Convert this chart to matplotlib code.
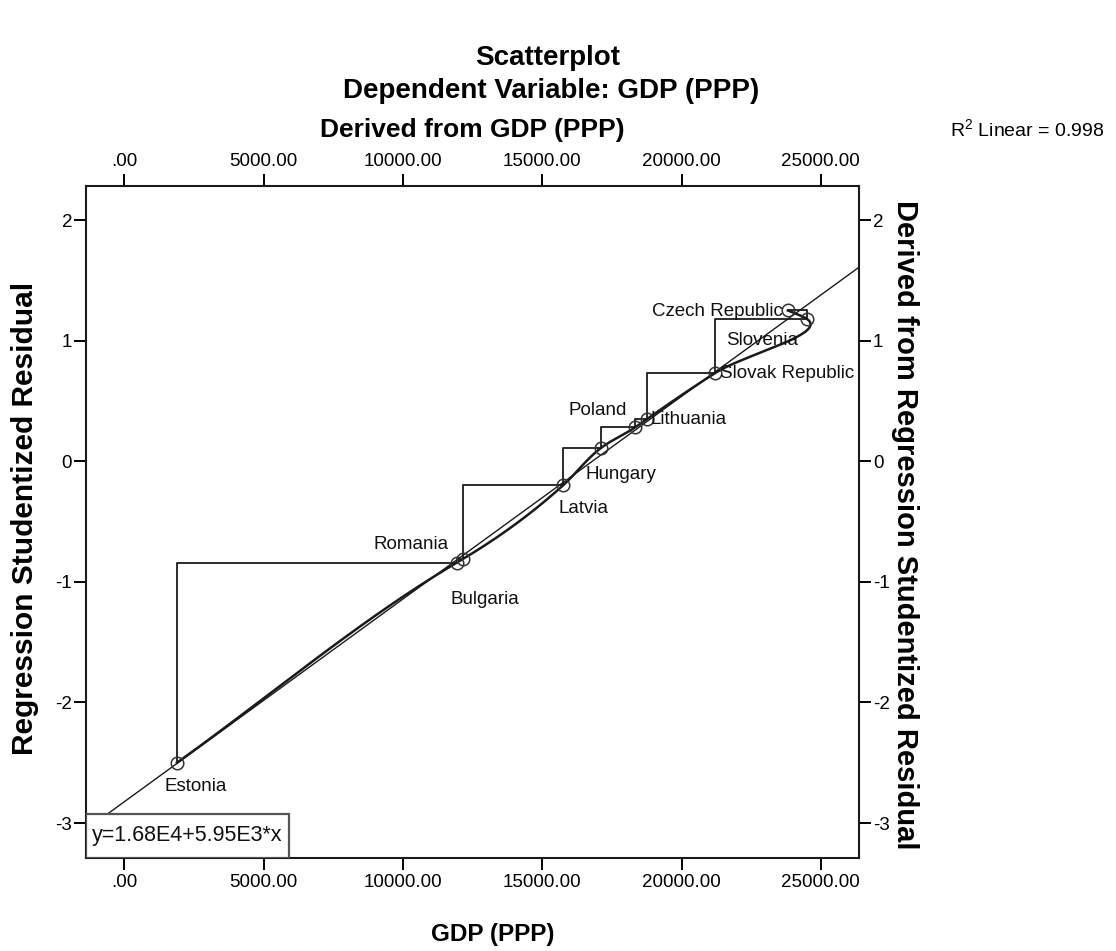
import numpy as np
from matplotlib import pyplot as plt
from matplotlib.patches import Rectangle

plt.rcParams['font.family'] = ['Liberation Sans', 'DejaVu Sans']
plt.rcParams['mathtext.fontset'] = 'custom'
plt.rcParams['mathtext.rm'] = 'Liberation Sans'

# data, ordered by the residual (that's the order SPSS joins them)
countries = ["Estonia", "Romania", "Bulgaria", "Latvia", "Hungary", "Poland",
             "Lithuania", "Slovak Republic", "Slovenia", "Czech Republic"]
gdp = [1890, 11940, 12160, 15750, 17110, 18330, 18760, 21200, 24500, 23820]
resid = [-2.50, -0.84, -0.81, -0.20, 0.11, 0.28, 0.35, 0.73, 1.18, 1.25]

# fit line as printed in the box: GDP = 1.68E4 + 5.95E3 * residual
fit_a = 1.68e4
fit_b = 5.95e3
r2 = 0.998

xticks = [0, 5000, 10000, 15000, 20000, 25000]
xticklabels = [".00", "5000.00", "10000.00", "15000.00", "20000.00", "25000.00"]
yticks = [2, 1, 0, -1, -2, -3]
yticklabels = ["2", "1", "0", "-1", "-2", "-3"]

# label offsets in pixels (dx, dy, ha)
lab_off = {"Estonia": (19, -24, "center"), "Romania": (-8, 18, "right"),
           "Bulgaria": (22, -41, "center"), "Latvia": (20, -23, "center"),
           "Hungary": (20, -27, "center"), "Poland": (-37, 17, "center"),
           "Lithuania": (4, 0, "left"), "Slovak Republic": (5, 0, "left"),
           "Slovenia": (-45, -22, "center"), "Czech Republic": (-5, -1, "right")}

W, H = 1116, 951
fig = plt.figure(figsize=(W / 100, H / 100), dpi=100)
ax = fig.add_axes([86 / W, 1 - 858 / H, (859 - 86) / W, (858 - 186) / H])
xmin, xmax = -1375, 26371
ymin, ymax = -3.29, 2.282
ax.set_xlim(xmin, xmax)
ax.set_ylim(ymin, ymax)

col = "#1a1a1a"

# fit line across the whole plot
xl = np.array([xmin, xmax])
ax.plot(xl, (xl - fit_a) / fit_b, color=col, lw=1.0, zorder=2)

# smooth interpolation line through the points:
# hermite pieces with chord-length (bessel) tangents, done in pixel space
sx = 773 / (xmax - xmin)
sy = 672 / (ymax - ymin)
P = np.column_stack([np.array(gdp) * sx, np.array(resid) * sy])
n = len(P)
h = np.sqrt(((P[1:] - P[:-1]) ** 2).sum(axis=1))
d = (P[1:] - P[:-1]) / h[:, None]
m = np.zeros_like(P)
m[0] = d[0]
m[-1] = d[-1]
for i in range(1, n - 1):
    m[i] = (h[i] * d[i - 1] + h[i - 1] * d[i]) / (h[i - 1] + h[i])
curve = []
s = np.linspace(0, 1, 40)[:, None]
h00 = 2 * s**3 - 3 * s**2 + 1
h10 = s**3 - 2 * s**2 + s
h01 = -2 * s**3 + 3 * s**2
h11 = s**3 - s**2
for i in range(n - 1):
    curve.append(h00 * P[i] + h10 * m[i] * h[i] + h01 * P[i + 1] + h11 * m[i + 1] * h[i])
curve = np.vstack(curve)
ax.plot(curve[:, 0] / sx, curve[:, 1] / sy, color=col, lw=1.8, zorder=3)

# step interpolation
ax.plot(gdp, resid, drawstyle="steps-pre", color=col, lw=1.3, zorder=3)

ax.plot(gdp, resid, "o", ms=9, mfc="none", mec="#333333", mew=1.1, zorder=4)

for c, x, y in zip(countries, gdp, resid):
    dx, dy, ha = lab_off[c]
    ax.annotate(c, (x, y), xytext=(dx, dy), textcoords="offset pixels",
                ha=ha, va="center", fontsize=13.5, color="#111111", zorder=5)

# equation box in the lower left corner
ax.add_patch(Rectangle((0, 0), 203 / 773, 44 / 672, transform=ax.transAxes,
                       facecolor="white", edgecolor="#555555", lw=1.6, zorder=6))
ax.text(6 / 773, 22 / 672, "y=%.2fE4+%.2fE3*x" % (fit_a / 1e4, fit_b / 1e3),
        transform=ax.transAxes, ha="left", va="center", fontsize=15.5,
        color="#111111", zorder=7)

ax.set_xticks(xticks)
ax.set_xticklabels(xticklabels)
ax.set_yticks(yticks)
ax.set_yticklabels(yticklabels)
ax.tick_params(axis="x", top=True, bottom=True, labeltop=True, labelbottom=True,
               direction="out", length=8.5, width=1.4, pad=3, labelsize=13.5)
ax.tick_params(axis="y", left=True, right=True, labelleft=True, labelright=True,
               direction="out", length=8.5, width=1.4, pad=1.5, labelsize=13.5)
for sp in ax.spines.values():
    sp.set_linewidth(1.5)
    sp.set_color(col)

fig.text(548 / W, 1 - 58 / H, "Scatterplot", ha="center", va="center",
         fontsize=20, fontweight="bold")
fig.text(551 / W, 1 - 91 / H, "Dependent Variable: GDP (PPP)", ha="center",
         va="center", fontsize=20, fontweight="bold")
fig.text(472.5 / W, 1 - 130 / H, "Derived from GDP (PPP)", ha="center",
         va="center", fontsize=19, fontweight="bold")
fig.text(950 / W, 1 - 130 / H, "R$^2$ Linear = %.3f" % r2, ha="left",
         va="center", fontsize=14)
fig.text(493 / W, 1 - 935 / H, "GDP (PPP)", ha="center", va="center",
         fontsize=17.5, fontweight="bold")
fig.text(25 / W, 1 - 518 / H, "Regression Studentized Residual", rotation=90,
         ha="center", va="center", fontsize=21.5, fontweight="bold")
fig.text(905 / W, 1 - 525 / H, "Derived from Regression Studentized Residual",
         rotation=-90, ha="center", va="center", fontsize=21, fontweight="bold")

fig.savefig("out.png", dpi=100)
